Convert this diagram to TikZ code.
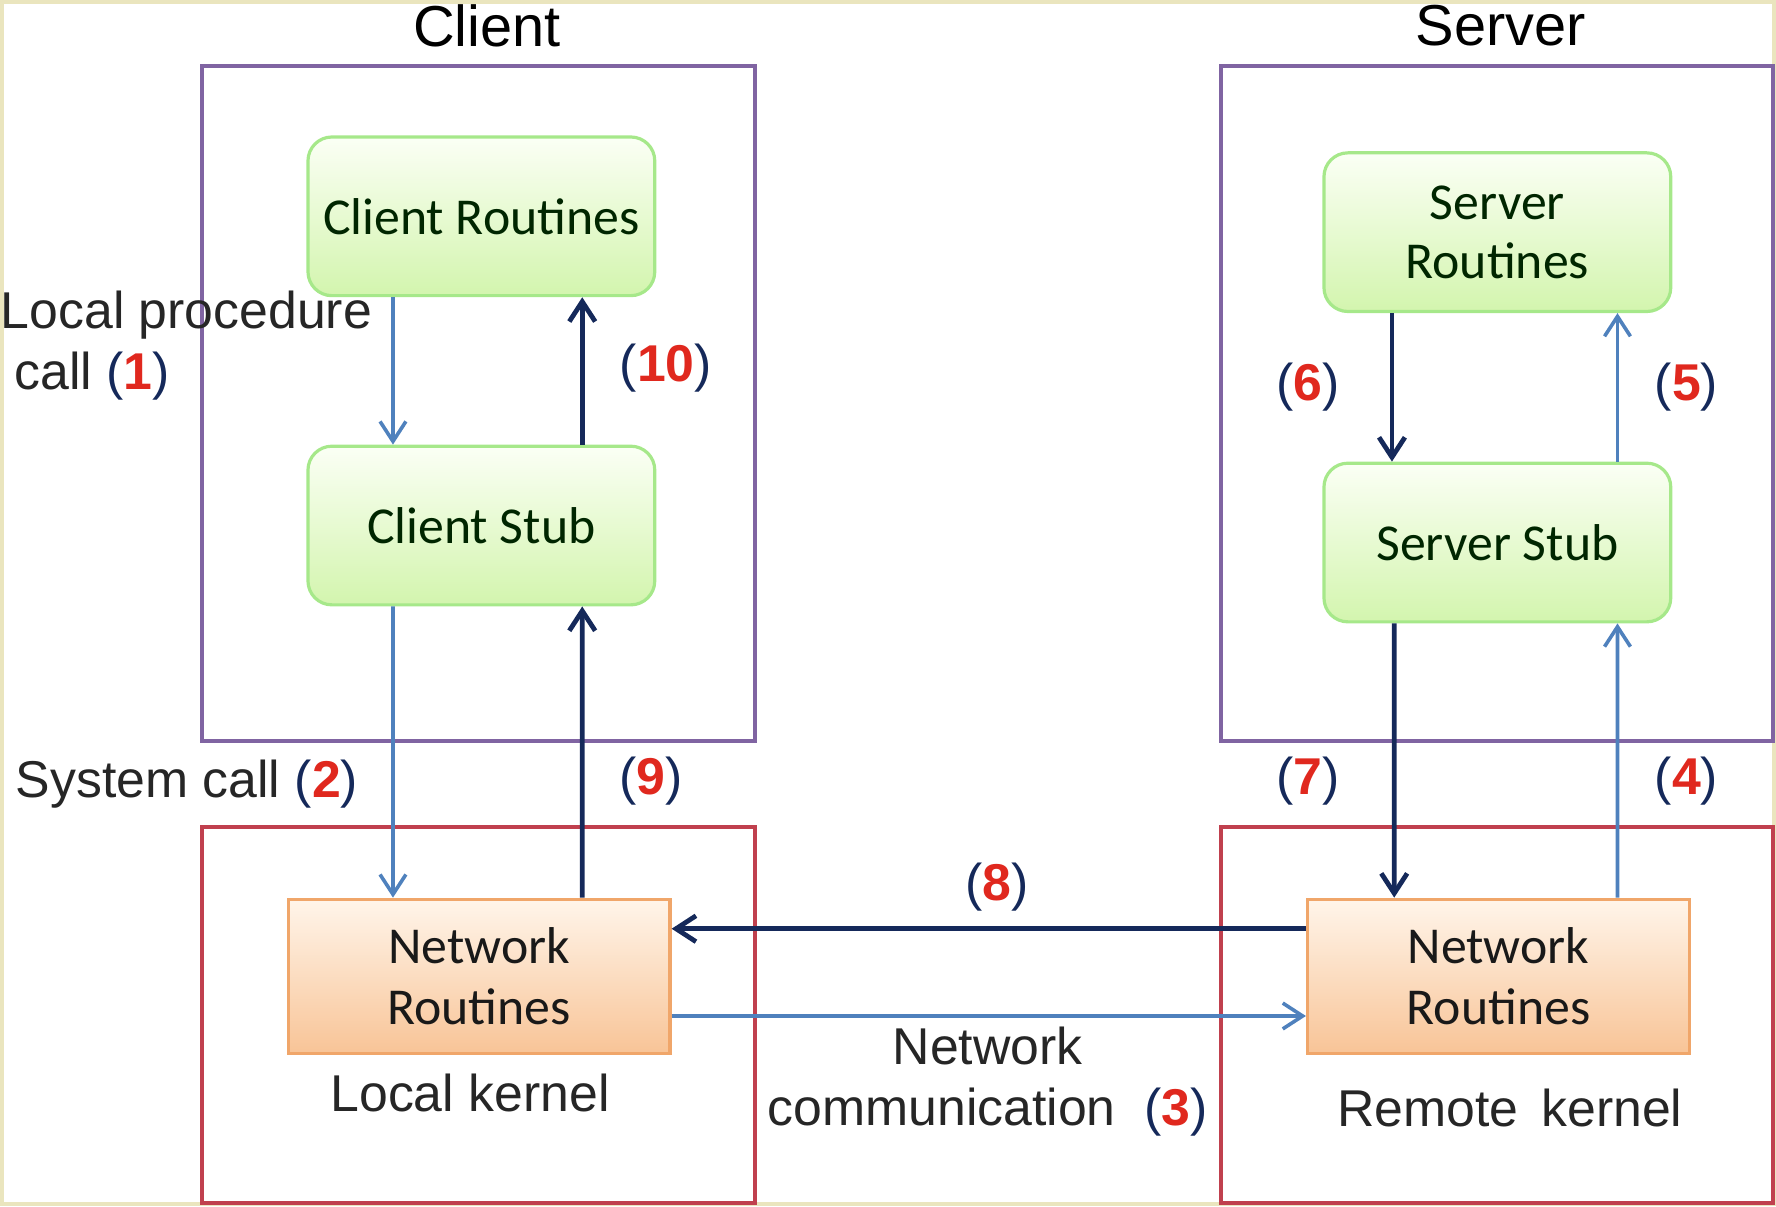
\documentclass[tikz,border=0pt]{standalone}
\usepackage{fontspec}
\setmainfont{Liberation Sans}
\newfontfamily\boxfont{Carlito}
\usetikzlibrary{calc,arrows.meta}
\definecolor{callblue}{HTML}{4F81BD}
\definecolor{retnavy}{HTML}{15295A}
\definecolor{numred}{HTML}{E0281E}
\definecolor{hostpurple}{HTML}{8064A2}
\definecolor{kernred}{HTML}{C0404E}
\definecolor{slideframe}{HTML}{EAE5BE}
\definecolor{greentop}{HTML}{FBFFF5}
\definecolor{greenbot}{HTML}{D3F5AE}
\definecolor{greenline}{HTML}{A6E88A}
\definecolor{orangetop}{HTML}{FFF5EA}
\definecolor{orangebot}{HTML}{F8C497}
\definecolor{orangeline}{HTML}{F0A66A}
\tikzset{
hostbox/.style = {line width = 1pt, draw = hostpurple},
kernbox/.style = {line width = 1pt, draw = kernred},
routine/.style = {rounded corners = 6pt, draw = greenline, line width = 0.8pt, top color = greentop, bottom color = greenbot, minimum width = 3.06cm, minimum height = 1.4cm, align = center, text = black!85!green, font = \boxfont\fontsize{13}{14.8}\selectfont},
netroutine/.style = {draw = orangeline, line width = 0.8pt, top color = orangetop, bottom color = orangebot, minimum width = 3.37cm, minimum height = 1.36cm, align = center, text = black!90, font = \boxfont\fontsize{13}{15.4}\selectfont},
callarrow/.style = {line width = 0.9pt, color = callblue, -{Straight Barb[length=5pt,width=6.5pt]}},
retarrow/.style = {line width = 1.2pt, color = retnavy, -{Straight Barb[length=5pt,width=6.5pt]}},
txtlabel/.style = {font = \fontsize{13}{15.4}\selectfont, text = black!85},
titlelabel/.style = {font = \fontsize{14.5}{16}\selectfont, text = black}}
\newcommand{\stepno}[1]{\textcolor{retnavy}{(}\textcolor{numred}{\textbf{#1}}\textcolor{retnavy}{)}}

\begin{document}
\begin{tikzpicture}[x=0.01cm, y=-0.01cm]
%
% slide frame
\useasboundingbox (0,0) rectangle (1568,1065);
\draw[slideframe, line width = 1pt] (2,2) rectangle (1566,1063);
%
%----------------------------------------------------------------------------------
% hosts and kernels
\draw[hostbox] (178,58) rectangle (667,654);
\draw[hostbox] (1078,58) rectangle (1565,654);
\draw[kernbox] (178,730) rectangle (667,1062);
\draw[kernbox] (1078,730) rectangle (1565,1062);
\node[titlelabel] (ctitle) at (430,23) {Client};
\node[titlelabel] (stitle) at (1325,23) {Server};
%----------------------------------------------------------------------------------
%
% routines and stubs
\node[routine] (crout) at (425,191) {Client Routines};
\node[routine] (cstub) at (425,464) {Client Stub};
\node[routine] (srout) at (1322,205) {Server\\Routines};
\node[routine] (sstub) at (1322,479) {Server Stub};
\node[netroutine] (lnet) at (423,862) {Network\\Routines};
\node[netroutine] (rnet) at (1323,862) {Network\\Routines};
\node[txtlabel] (lkern) at (415,965) {Local kernel};
\node[txtlabel] (rkern) at (1333,978) {Remote\, kernel};
%
%----------------------------------------------------------------------------------
% client side
\draw[callarrow] ([xshift=-0.78cm]crout.south) -- ([xshift=-0.78cm]cstub.north);
\draw[retarrow] ([xshift=0.89cm]cstub.north) -- ([xshift=0.89cm]crout.south);
\draw[callarrow] ([xshift=-0.78cm]cstub.south) -- ([xshift=-0.76cm]lnet.north);
\draw[retarrow] ([xshift=0.91cm]lnet.north) -- ([xshift=0.89cm]cstub.south);
%
% server side
\draw[retarrow] ([xshift=-0.93cm]srout.south) -- ([xshift=-0.93cm]sstub.north);
\draw[callarrow] ([xshift=1.06cm]sstub.north) -- ([xshift=1.06cm]srout.south);
\draw[retarrow] ([xshift=-0.91cm]sstub.south) -- ([xshift=-0.92cm]rnet.north);
\draw[callarrow] ([xshift=1.05cm]rnet.north) -- ([xshift=1.06cm]sstub.south);
%
% network
\draw[retarrow] ([yshift=0.42cm]rnet.west) -- ([yshift=0.42cm]lnet.east);
\draw[callarrow] ([yshift=-0.35cm]lnet.east) -- ([yshift=-0.35cm]rnet.west);
%----------------------------------------------------------------------------------
%
% step labels
\node[txtlabel, anchor = west, align = left, inner sep = 0pt] (l1) at (0,305) {Local procedure\\\hspace*{0.12cm}call \stepno{1}};
\node[txtlabel] (l10) at (588,325) {\stepno{10}};
\node[txtlabel] (l2) at (165,692) {System call \stepno{2}};
\node[txtlabel] (l9) at (575,690) {\stepno{9}};
\node[txtlabel] (l6) at (1155,342) {\stepno{6}};
\node[txtlabel] (l5) at (1489,342) {\stepno{5}};
\node[txtlabel] (l7) at (1155,690) {\stepno{7}};
\node[txtlabel] (l4) at (1489,690) {\stepno{4}};
\node[txtlabel] (l8) at (880,783) {\stepno{8}};
\node[txtlabel, align = center] (l3) at (872,955) {Network\\communication\; \stepno{3}};
%
\end{tikzpicture}
\end{document}
